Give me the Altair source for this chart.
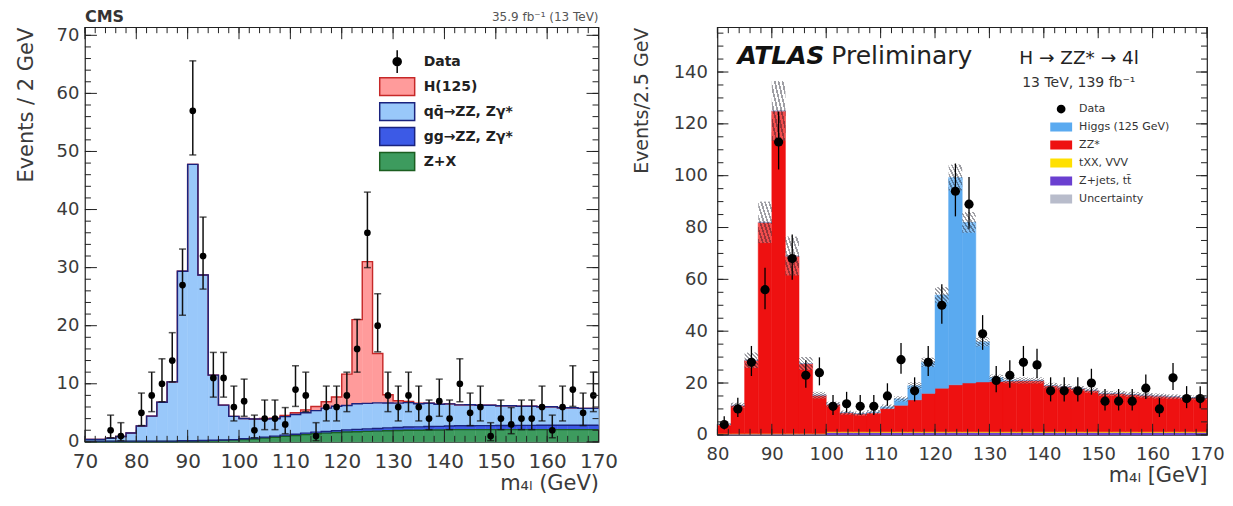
import altair as alt
import pandas as pd

FONT = "DejaVu Sans"
TXT = "#3a3a3a"

# ---------------- CMS panel data (2 GeV bins, 70-170 GeV) ----------------
cms_bin_lo = list(range(70, 170, 2))
cms_bin_w = 2
cms_zx = [0.05, 0.05, 0.05, 0.05, 0.05, 0.05, 0.05, 0.05, 0.05,
          0.1, 0.1, 0.15, 0.2, 0.25, 0.3,
          0.4, 0.5, 0.65, 0.8, 0.95, 1.1, 1.25, 1.4, 1.5, 1.6,
          1.7, 1.75, 1.8, 1.85, 1.9, 1.95, 2.0, 2.0, 2.05, 2.05,
          2.1, 2.1, 2.1, 2.1, 2.1, 2.1, 2.1, 2.1, 2.1, 2.1,
          2.1, 2.1, 2.1, 2.1, 2.1]
cms_gg = [0.08, 0.08, 0.08, 0.08, 0.08, 0.08, 0.08, 0.08, 0.08, 0.08, 0.08, 0.08, 0.08, 0.08, 0.08,
          0.12, 0.14, 0.16, 0.18, 0.2, 0.22, 0.25, 0.28, 0.3, 0.33,
          0.36, 0.4, 0.43, 0.46, 0.5, 0.52, 0.55, 0.57, 0.6, 0.62,
          0.64, 0.66, 0.68, 0.7, 0.7, 0.72, 0.72, 0.74, 0.74, 0.75,
          0.75, 0.76, 0.76, 0.77, 0.77]
cms_qq = [0.3, 0.3, 0.5, 0.8, 1.4, 2.6, 4.3, 6.7, 10.2,
          29.2, 47.6, 28.5, 11.2, 6.0, 4.0,
          3.5, 3.3, 3.1, 3.0, 3.2, 3.4, 3.5, 3.7, 4.0, 4.2,
          4.2, 4.4, 4.4, 4.4, 4.3, 4.2, 4.2, 4.0, 4.0, 3.8,
          3.8, 3.6, 3.6, 3.5, 3.5, 3.4, 3.4, 3.3, 3.3, 3.2,
          3.2, 3.0, 3.0, 2.9, 2.9]
cms_h = [0, 0, 0, 0, 0, 0, 0, 0, 0, 0, 0, 0, 0, 0, 0, 0, 0,
         0.1, 0.1, 0.2, 0.3, 0.5, 0.7, 1.1, 1.6, 5.4, 14.5, 24.4, 8.5, 1.4, 0.4, 0.2, 0.1,
         0, 0, 0, 0, 0, 0, 0, 0, 0, 0, 0, 0, 0, 0, 0, 0, 0]

cms_data_x = [75, 77, 81, 83, 85, 87, 89, 91, 93, 95, 97, 99, 101, 103, 105, 107, 109,
              111, 113, 115, 117, 119, 121, 123, 125, 127, 129, 131, 133, 135, 137, 139,
              141, 143, 145, 147, 149, 151, 153, 155, 157, 159, 161, 163, 165, 167, 169]
cms_data_y = [2, 1, 5, 8, 10, 14, 27, 57, 32, 11, 11, 6, 7, 2, 4, 4, 3,
              9, 8, 1, 6, 6, 8, 16, 36, 20, 8, 6, 8, 6, 4, 7,
              4, 10, 5, 6, 1, 4, 3, 4, 4, 6, 2, 6, 9, 5, 8]
cms_err_lo = [0.7, 0.2, 2.8, 5.2, 6.9, 10.3, 21.8, 49.4, 26.3, 7.7, 7.7, 3.6, 4.4, 0.7, 2.1, 2.1, 1.4,
              6.1, 5.2, 0.2, 3.6, 3.6, 5.2, 12.0, 30.0, 15.5, 5.2, 3.6, 5.2, 3.6, 2.1, 4.4,
              2.1, 6.9, 2.8, 3.6, 0.2, 2.1, 1.4, 2.1, 2.1, 3.6, 0.7, 3.6, 6.1, 2.8, 5.2]
cms_err_hi = [4.6, 3.3, 8.4, 12.0, 14.3, 18.8, 33.2, 65.6, 38.7, 15.4, 15.4, 9.6, 10.8, 4.6, 7.2, 7.2, 5.9,
              13.1, 12.0, 3.3, 9.6, 9.6, 12.0, 21.1, 43.0, 25.5, 12.0, 9.6, 12.0, 9.6, 7.2, 10.8,
              7.2, 14.3, 8.4, 9.6, 3.3, 7.2, 5.9, 7.2, 7.2, 9.6, 4.6, 9.6, 13.1, 8.4, 12.0]

cms_leg_entries = ["Data", "H(125)", "qq\u0304\u2192ZZ, Z\u03b3*", "gg\u2192ZZ, Z\u03b3*", "Z+X"]
cms_leg_fill = ["#000000", "#ff9b9b", "#99c8fa", "#3c5ae6", "#3d9b5e"]
cms_leg_edge = ["#000000", "#c62828", "#1a237e", "#1a237e", "#1b5e20"]

# ---------------- ATLAS panel data (2.5 GeV bins, 80-170 GeV) ----------------
atlas_bin_lo = [80 + 2.5 * i for i in range(36)]
atlas_bin_w = 2.5
atlas_zjets = [0.3, 0.3, 0.3, 0.3, 0.3, 0.3, 0.3, 0.3,
               0.9, 0.9, 0.9, 0.9, 0.9, 0.9, 0.9, 0.9, 0.9, 0.9, 0.9, 0.9, 0.9, 0.9, 0.9, 0.9,
               0.9, 0.9, 0.9, 0.9, 0.9, 0.9, 0.9, 0.9, 0.9, 0.9, 0.9, 0.9]
atlas_ttxx = [0.2, 0.2, 0.2, 0.2, 0.2, 0.2, 0.2, 0.2,
              0.3, 0.3, 0.3, 0.3, 0.3, 0.3, 0.3, 0.3, 0.3, 0.3, 0.3, 0.3, 0.3, 0.3, 0.3, 0.3,
              0.3, 0.3, 0.3, 0.3, 0.3, 0.3, 0.3, 0.3, 0.3, 0.3, 0.3, 0.3]
atlas_zz = [3.5, 10.9, 28.3, 81.5, 124.5, 68.5, 27.0, 14.8,
            10.6, 7.4, 7.0, 7.4, 9.0, 10.2, 12.3, 14.8,
            16.8, 18.1, 18.8, 19.2, 19.4, 19.6, 19.8, 19.8,
            17.8, 17.3, 16.7, 16.0, 14.8, 14.8, 14.4, 14.1,
            13.8, 13.5, 13.2, 13.2]
atlas_higgs = [0, 0, 0, 0, 0, 0, 0, 0, 0, 0, 0,
               0.2, 0.6, 2.5, 5.5, 12.0, 36.0, 80.0, 62.0, 15.5, 1.5, 0.3,
               0, 0, 0, 0, 0, 0, 0, 0, 0, 0, 0, 0, 0, 0]
atlas_unc = [0.5, 1.0, 3.0, 8.0, 11.5, 7.5, 2.5, 1.3,
             1.0, 0.8, 0.8, 0.8, 0.9, 1.0, 1.3, 1.8,
             3.0, 5.0, 4.0, 1.8, 1.2, 1.2, 1.2, 1.2,
             1.1, 1.1, 1.0, 1.0, 1.0, 1.0, 1.0, 1.0,
             1.0, 0.9, 0.9, 0.9]
atlas_data_y = [4, 10, 28, 56, 113, 68, 23, 24, 11, 12, 11, 11, 15, 29, 17, 28,
                50, 94, 89, 39, 21, 23, 28, 27, 17, 17, 17, 20, 13, 13, 13, 18,
                10, 22, 14, 14]
atlas_err_lo = [2.1, 6.9, 22.7, 48.5, 102.4, 59.8, 18.2, 19.1, 7.7, 8.6, 7.7, 7.7, 11.2, 23.6, 12.9, 22.7,
                42.9, 84.3, 79.5, 32.8, 16.4, 18.2, 22.7, 21.8, 12.9, 12.9, 12.9, 15.5, 9.4, 9.4, 9.4, 13.8,
                6.9, 17.3, 10.3, 10.3]
atlas_err_hi = [7.2, 14.3, 34.3, 64.5, 124.6, 77.3, 28.8, 29.9, 15.4, 16.6, 15.4, 15.4, 19.9, 35.4, 22.2, 34.3,
                58.1, 104.7, 99.5, 46.2, 26.6, 28.8, 34.3, 33.2, 22.2, 22.2, 22.2, 25.5, 17.7, 17.7, 17.7, 23.3,
                14.3, 27.7, 18.8, 18.8]

atlas_leg_entries = ["Data", "Higgs (125 GeV)", "ZZ*", "tXX, VVV", "Z+jets, tt\u0304", "Uncertainty"]
atlas_leg_fill = ["#000000", "#5aaaf0", "#ee1111", "#ffe000", "#6a3fd0", "#b8bccb"]


# ---------------- helpers ----------------
def axis_x(values, title, fs, pad):
    return alt.Axis(values=values, title=title, labelFont=FONT, labelFontSize=fs, labelColor=TXT,
                    labelPadding=pad, ticks=False, domain=False, grid=False, labelFlush=False,
                    labelOverlap=False, titleFont=FONT, titleFontSize=21, titleFontWeight="normal",
                    titleColor=TXT, titleAnchor="end", titlePadding=1)


def axis_y(values, title, fs, pad, tfs, tpad):
    return alt.Axis(values=values, title=title, labelFont=FONT, labelFontSize=fs, labelColor=TXT,
                    labelPadding=pad, ticks=False, domain=False, grid=False, labelFlush=False,
                    labelOverlap=False, titleFont=FONT, titleFontSize=tfs, titleFontWeight="normal",
                    titleColor=TXT, titleAnchor="end", titlePadding=tpad)


class Panel:
    def __init__(self, xs, ys, xaxis, yaxis, xtitle, ytitle):
        self.xs, self.ys, self.xa, self.ya = xs, ys, xaxis, yaxis
        self.xt, self.yt = xtitle, ytitle

    def X(self, f):
        return alt.X(f, scale=self.xs, axis=self.xa, title=self.xt)

    def Y(self, f):
        return alt.Y(f, scale=self.ys, axis=self.ya, title=self.yt)


def stack_layers(P, lo, w, comps, outlines=True):
    layers, lines = [], []
    base = [0.0] * len(lo)
    for name, vals, fill, edge in comps:
        top = [b + v for b, v in zip(base, vals)]
        df = pd.DataFrame({"lo": lo, "hi": [v + w for v in lo], "y0": base, "y1": top})
        layers.append(
            alt.Chart(df).mark_rect(color=fill, stroke=fill, strokeWidth=0.5).encode(
                x=P.X("lo:Q"), x2="hi:Q", y=P.Y("y0:Q"), y2="y1:Q")
        )
        if outlines and edge:
            pts = pd.DataFrame({"x": lo + [lo[-1] + w], "y": top + [top[-1]]})
            lines.append((name, pts, edge))
        base = top
    return layers, lines, base


def tick_layers(P, xmaj, xmin, ymaj, ymin, W, H, Lmaj, Lmin):
    out = []
    for vals, L in ((xmaj, Lmaj), (xmin, Lmin)):
        df = pd.DataFrame({"v": vals})
        out.append(alt.Chart(df).mark_rule(color="#222", strokeWidth=1).encode(
            x=P.X("v:Q"), y=alt.value(H), y2=alt.value(H - L)))
        out.append(alt.Chart(df).mark_rule(color="#222", strokeWidth=1).encode(
            x=P.X("v:Q"), y=alt.value(0), y2=alt.value(L)))
    for vals, L in ((ymaj, Lmaj), (ymin, Lmin)):
        df = pd.DataFrame({"v": vals})
        out.append(alt.Chart(df).mark_rule(color="#222", strokeWidth=1).encode(
            y=P.Y("v:Q"), x=alt.value(0), x2=alt.value(L)))
        out.append(alt.Chart(df).mark_rule(color="#222", strokeWidth=1).encode(
            y=P.Y("v:Q"), x=alt.value(W), x2=alt.value(W - L)))
    return out


def text_layer(s, x, y, **kw):
    return alt.Chart(pd.DataFrame({"t": [s]})).mark_text(font=FONT, **kw).encode(
        text="t:N", x=alt.value(x), y=alt.value(y))


# ---------------- CMS panel ----------------
CW, CH = 514, 415
PC = Panel(alt.Scale(domain=[70, 170], nice=False, zero=False),
           alt.Scale(domain=[0, 71.4], nice=False, zero=False),
           axis_x(list(range(70, 171, 10)), "m\u2084\u2097 (GeV)", 20, 10),
           axis_y(list(range(0, 71, 10)), "Events / 2 GeV", 18, 6, 21, 20),
           "m\u2084\u2097 (GeV)", "Events / 2 GeV")

cms_comps = [
    ("Z+X", cms_zx, "#3d9b5e", "#1b5e20"),
    ("gg", cms_gg, "#3c5ae6", "#1a237e"),
    ("qq", cms_qq, "#99c8fa", "#1a237e"),
    ("H", cms_h, "#ff9b9b", "#c62828"),
]
c_rects, c_lines, _ = stack_layers(PC, cms_bin_lo, cms_bin_w, cms_comps)
c_line_layers = []
for nm in ["Z+X", "gg", "H", "qq"]:
    for name, pts, edge in c_lines:
        if name == nm:
            c_line_layers.append(alt.Chart(pts).mark_line(interpolate="step-after", color=edge,
                                                          strokeWidth=1.4).encode(
                x=PC.X("x:Q"), y=PC.Y("y:Q")))

cms_pts = pd.DataFrame({"x": cms_data_x, "y": cms_data_y, "lo": cms_err_lo, "hi": cms_err_hi})
c_err = alt.Chart(cms_pts).mark_rule(color="#111", strokeWidth=1.5).encode(
    x=PC.X("x:Q"), y=PC.Y("lo:Q"), y2="hi:Q")
c_cap_lo = alt.Chart(cms_pts).mark_tick(color="#111", orient="horizontal", size=7, thickness=1.5).encode(
    x=PC.X("x:Q"), y=PC.Y("lo:Q"))
c_cap_hi = alt.Chart(cms_pts).mark_tick(color="#111", orient="horizontal", size=7, thickness=1.5).encode(
    x=PC.X("x:Q"), y=PC.Y("hi:Q"))
c_dots = alt.Chart(cms_pts).mark_circle(color="#000", size=45, opacity=1).encode(
    x=PC.X("x:Q"), y=PC.Y("y:Q"))

c_ticks = tick_layers(PC, list(range(70, 171, 10)), list(range(70, 171, 2)),
                      list(range(0, 71, 10)), list(range(0, 71, 2)), CW, CH, 12, 6)

c_box = "M-1,-0.514H1V0.514H-1Z"
c_dat = "M-0.23,0A0.23,0.23 0 1,0 0.23,0A0.23,0.23 0 1,0 -0.23,0ZM0,-0.65V0.65"
c_leg = alt.Legend(orient="none", legendX=294, legendY=22, title=None, clipHeight=25, rowPadding=0,
                   labelFont=FONT, labelFontSize=14, labelFontWeight="bold", labelColor="#222",
                   labelOffset=8, symbolSize=1225, symbolStrokeWidth=1.5)
c_legend = alt.Chart(pd.DataFrame({"entry": cms_leg_entries})).transform_filter("false").mark_point(
    filled=True, size=1225, strokeWidth=1.5, opacity=1).encode(
    color=alt.Color("entry:N", scale=alt.Scale(domain=cms_leg_entries, range=cms_leg_fill), legend=c_leg),
    stroke=alt.Stroke("entry:N", scale=alt.Scale(domain=cms_leg_entries, range=cms_leg_edge), legend=c_leg),
    shape=alt.Shape("entry:N", scale=alt.Scale(domain=cms_leg_entries,
                                               range=[c_dat, c_box, c_box, c_box, c_box]), legend=c_leg),
)

c_texts = [
    text_layer("CMS", 0, -5, align="left", baseline="alphabetic", fontSize=16, fontWeight="bold", color="#333"),
    text_layer("35.9 fb\u207b\u00b9 (13 TeV)", CW, -6, align="right", baseline="alphabetic", fontSize=12,
               color="#555"),
]

cms = alt.layer(*c_rects, *c_line_layers, c_err, c_cap_lo, c_cap_hi, c_dots, *c_ticks, *c_texts,
                c_legend).properties(width=CW, height=CH)

# ---------------- ATLAS panel ----------------
AW, AH = 490, 408
PA = Panel(alt.Scale(domain=[80, 170], nice=False, zero=False),
           alt.Scale(domain=[0, 157.3], nice=False, zero=False),
           axis_x(list(range(80, 171, 10)), "m\u2084\u2097 [GeV]", 18, 11),
           axis_y(list(range(0, 141, 20)), "Events/2.5 GeV", 18, 10, 19, 22),
           "m\u2084\u2097 [GeV]", "Events/2.5 GeV")

atlas_comps = [
    ("zjets", atlas_zjets, "#6a3fd0", None),
    ("ttxx", atlas_ttxx, "#ffe000", None),
    ("zz", atlas_zz, "#ee1111", None),
    ("higgs", atlas_higgs, "#5aaaf0", None),
]
a_rects, _, a_total = stack_layers(PA, atlas_bin_lo, atlas_bin_w, atlas_comps, outlines=False)

stops = []
n_str = 7
for k in range(n_str):
    a0 = k / n_str
    a1 = (k + 0.45) / n_str
    a2 = (k + 1) / n_str
    stops += [alt.GradientStop(color="rgba(80,80,90,0.55)", offset=a0),
              alt.GradientStop(color="rgba(80,80,90,0.55)", offset=a1),
              alt.GradientStop(color="rgba(255,255,255,0.25)", offset=a1),
              alt.GradientStop(color="rgba(255,255,255,0.25)", offset=a2)]
hatch = alt.LinearGradient(gradient="linear", stops=stops, x1=0, x2=1, y1=1, y2=0)
unc_df = pd.DataFrame({
    "lo": atlas_bin_lo, "hi": [v + atlas_bin_w for v in atlas_bin_lo],
    "y0": [max(t - u, 0) for t, u in zip(a_total, atlas_unc)],
    "y1": [t + u for t, u in zip(a_total, atlas_unc)],
})
a_unc = alt.Chart(unc_df).mark_rect(fill=hatch).encode(
    x=PA.X("lo:Q"), x2="hi:Q", y=PA.Y("y0:Q"), y2="y1:Q")

atlas_pts = pd.DataFrame({"x": [v + atlas_bin_w / 2 for v in atlas_bin_lo], "y": atlas_data_y,
                          "lo": atlas_err_lo, "hi": atlas_err_hi})
a_err = alt.Chart(atlas_pts).mark_rule(color="#000", strokeWidth=1.3).encode(
    x=PA.X("x:Q"), y=PA.Y("lo:Q"), y2="hi:Q")
a_dots = alt.Chart(atlas_pts).mark_circle(color="#000", size=85, opacity=1).encode(
    x=PA.X("x:Q"), y=PA.Y("y:Q"))

a_ticks = tick_layers(PA, list(range(80, 171, 10)), list(range(80, 171, 2)),
                      list(range(0, 141, 20)), list(range(0, 156, 5)), AW, AH, 11, 6)

a_box = "M-1,-0.41H1V0.41H-1Z"
a_dat = "M-0.4,0A0.4,0.4 0 1,0 0.4,0A0.4,0.4 0 1,0 -0.4,0Z"
a_leg = alt.Legend(orient="none", legendX=333, legendY=73, title=None, clipHeight=18, rowPadding=0,
                   labelFont=FONT, labelFontSize=11, labelColor="#333", labelOffset=7,
                   symbolSize=484, symbolStrokeWidth=0)
a_legend = alt.Chart(pd.DataFrame({"entry2": atlas_leg_entries})).transform_filter("false").mark_point(
    filled=True, size=484, opacity=1).encode(
    color=alt.Color("entry2:N", scale=alt.Scale(domain=atlas_leg_entries, range=atlas_leg_fill), legend=a_leg),
    shape=alt.Shape("entry2:N", scale=alt.Scale(domain=atlas_leg_entries,
                                                range=[a_dat, a_box, a_box, a_box, a_box, a_box]), legend=a_leg),
)

a_texts = [
    text_layer("ATLAS", 20, 37, align="left", baseline="alphabetic", fontSize=25, fontWeight="bold",
               fontStyle="italic", color="#111"),
    text_layer("Preliminary", 114, 37, align="left", baseline="alphabetic", fontSize=25, color="#222"),
    text_layer("H \u2192 ZZ* \u2192 4l", 302, 37, align="left", baseline="alphabetic", fontSize=18.5,
               color="#222"),
    text_layer("13 TeV, 139 fb\u207b\u00b9", 305, 60, align="left", baseline="alphabetic", fontSize=14,
               color="#333"),
]

atlas = alt.layer(*a_rects, a_unc, a_err, a_dots, *a_ticks, *a_texts, a_legend).properties(
    width=AW, height=AH)

chart = alt.hconcat(cms, atlas, spacing=13).resolve_scale(
    x="independent", y="independent", color="independent", shape="independent", stroke="independent"
).properties(
    padding={"left": 6, "top": 0, "right": 0, "bottom": 0}, background="white"
).configure_view(stroke="#222", strokeWidth=1.2)

chart.save("out.html", embed_options={"renderer": "svg", "actions": False})
